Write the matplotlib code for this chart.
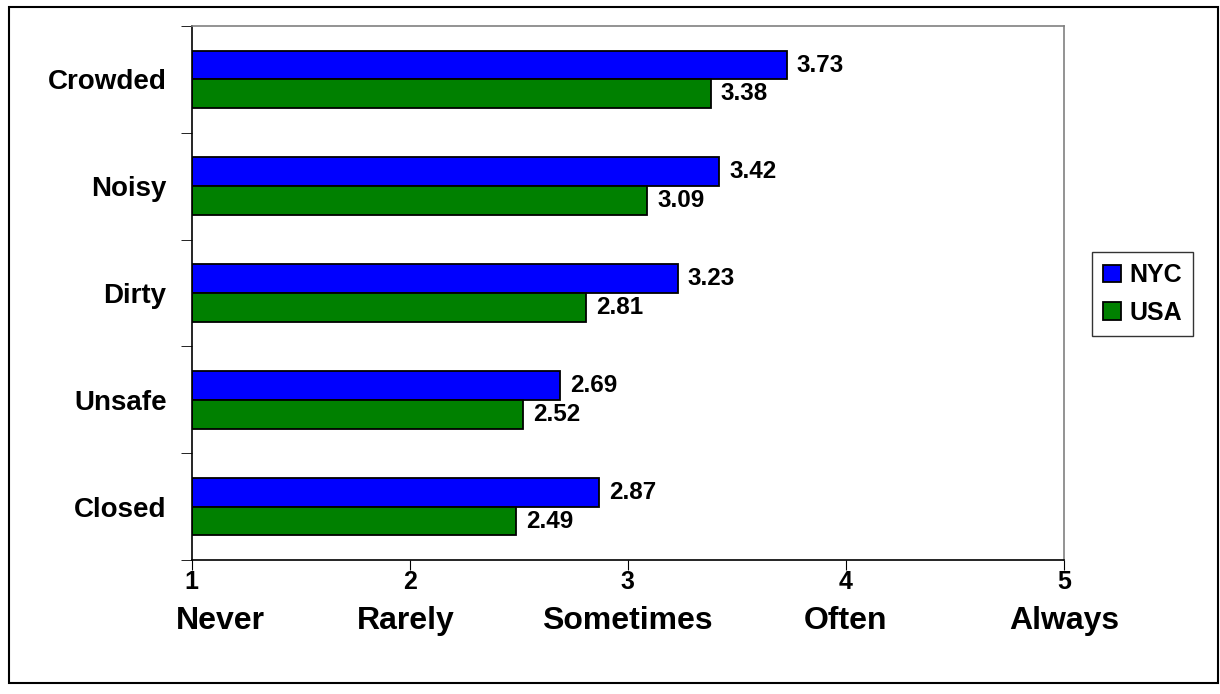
import matplotlib.pyplot as plt
import numpy as np
from matplotlib.patches import Rectangle

plt.rcParams['font.family'] = ['Liberation Sans', 'DejaVu Sans']
plt.rcParams['font.weight'] = 'bold'

# Data
categories = ['Crowded', 'Noisy', 'Dirty', 'Unsafe', 'Closed']
nyc = [3.73, 3.42, 3.23, 2.69, 2.87]
usa = [3.38, 3.09, 2.81, 2.52, 2.49]
scale_ticks = [1, 2, 3, 4, 5]
scale_names = ['Never', 'Rarely', 'Sometimes', 'Often', 'Always']

nyc_color = '#0000FF'
usa_color = '#008000'

fig = plt.figure(figsize=(12.2, 6.94), dpi=100)
ax = fig.add_axes([0.157, 0.193, 0.715, 0.7695])

y = np.arange(len(categories))
h = 0.27
base = scale_ticks[0]
ax.barh(y - h / 2, np.array(nyc) - base, left=base, height=h, color=nyc_color,
        edgecolor='black', linewidth=1.3, label='NYC')
ax.barh(y + h / 2, np.array(usa) - base, left=base, height=h, color=usa_color,
        edgecolor='black', linewidth=1.3, label='USA')

# value labels
for i in range(len(categories)):
    ax.annotate(f'{nyc[i]:.2f}', (nyc[i], y[i] - h / 2), xytext=(7, 0),
                textcoords='offset points', va='center', ha='left',
                fontsize=17.5, fontweight='bold')
    ax.annotate(f'{usa[i]:.2f}', (usa[i], y[i] + h / 2), xytext=(7, 0),
                textcoords='offset points', va='center', ha='left',
                fontsize=17.5, fontweight='bold')

ax.set_xlim(scale_ticks[0], scale_ticks[-1])
ax.set_ylim(len(categories) - 0.5, -0.5)

# y axis: labels at centers, ticks at boundaries
ax.set_yticks(y)
ax.set_yticklabels(categories, fontsize=20, fontweight='bold')
ax.tick_params(axis='y', which='major', length=0, pad=18)
ax.set_yticks(np.arange(-0.5, len(categories)), minor=True)
ax.tick_params(axis='y', which='minor', length=8, direction='out', color='black')

ax.set_xticks(scale_ticks)
ax.set_xticklabels([str(t) for t in scale_ticks], fontsize=18, fontweight='bold')
ax.tick_params(axis='x', length=7, direction='out', pad=0)

# descriptive labels under the numbers
trans = ax.get_xaxis_transform()
for t, name in zip(scale_ticks, scale_names):
    dx = 0.13 if t == scale_ticks[0] else -0.02 if t == 2 else 0
    ax.text(t + dx, -0.114, name, transform=trans, ha='center', va='center',
            fontsize=23, fontweight='bold')

for side in ['top', 'right']:
    ax.spines[side].set_color('#808080')
    ax.spines[side].set_linewidth(1.2)
for side in ['left', 'bottom']:
    ax.spines[side].set_color('black')
    ax.spines[side].set_linewidth(1.2)

leg = fig.legend(loc='upper left', bbox_to_anchor=(0.895, 0.637),
                 fontsize=18, frameon=True, fancybox=False, edgecolor='black',
                 handlelength=0.7, handleheight=0.7, handletextpad=0.35,
                 borderpad=0.45, labelspacing=0.55, borderaxespad=0)
leg.get_frame().set_linewidth(1.0)
for txt in leg.get_texts():
    txt.set_fontweight('bold')

# outer border
fig.patches.append(Rectangle((0.0074, 0.016), 0.9906, 0.974, transform=fig.transFigure,
                             fill=False, edgecolor='black', linewidth=1.5))

fig.savefig('out.png', dpi=100)
